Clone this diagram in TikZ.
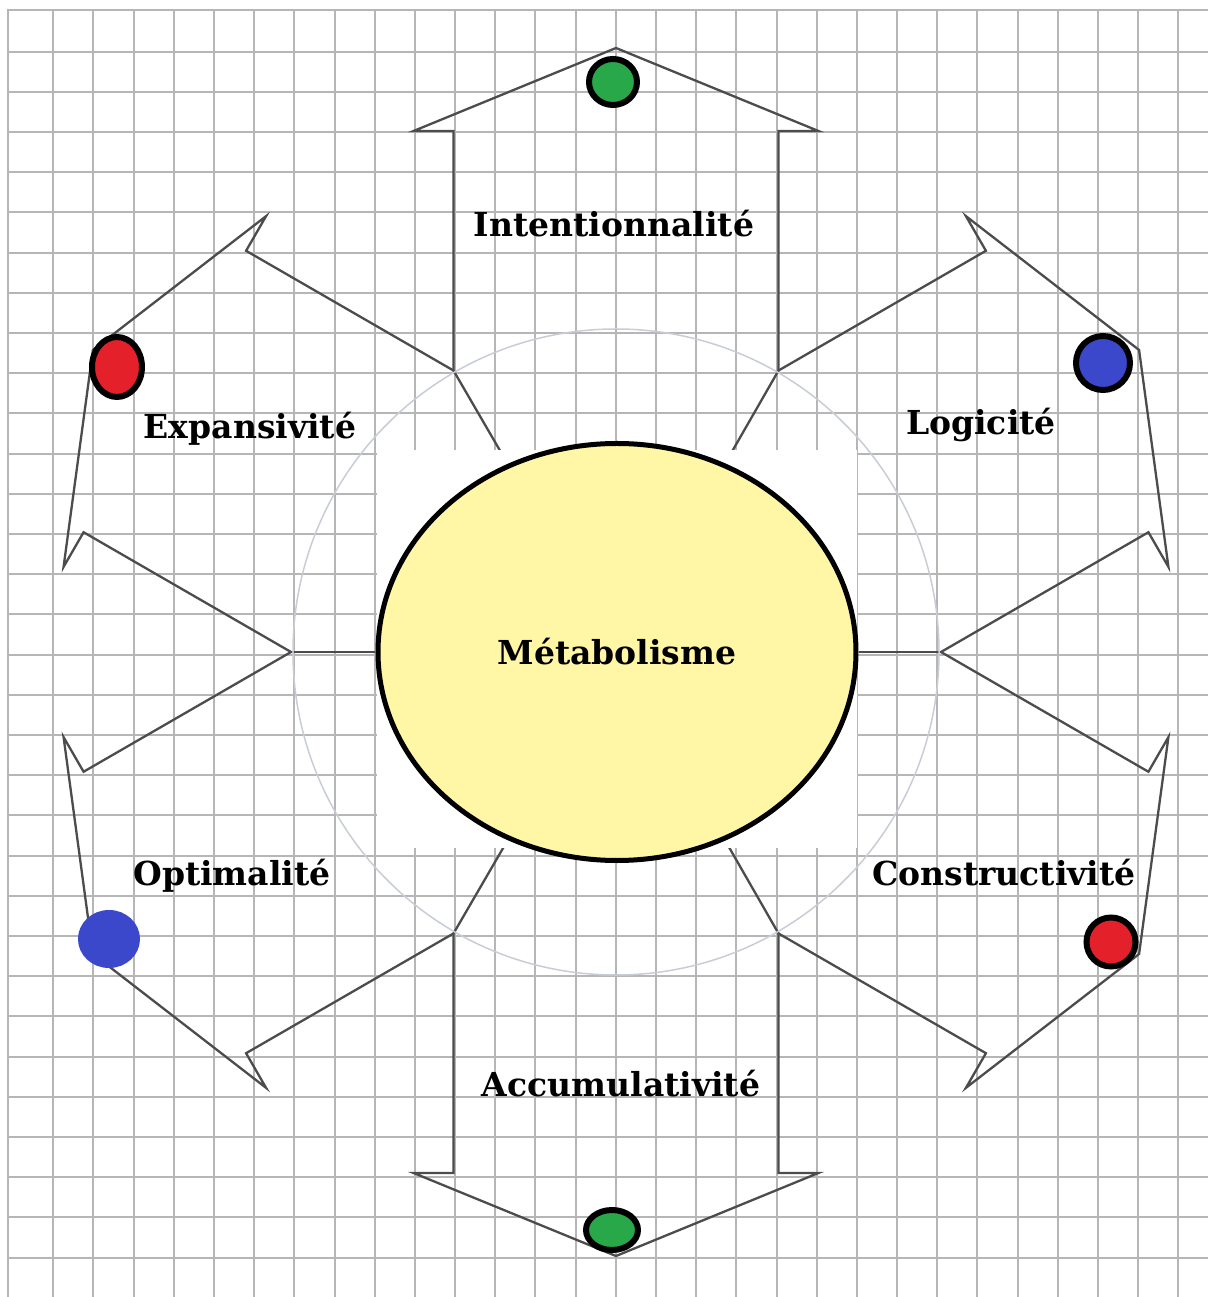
\documentclass[tikz,border=0pt]{standalone}
\usepackage{fontspec}
\setmainfont{DejaVu Serif}
\usetikzlibrary{shapes.geometric,calc,backgrounds}
\definecolor{paleyellow}{HTML}{FFF6A6}
\definecolor{gridgray}{HTML}{B6B6B6}
\definecolor{dotgreen}{HTML}{28A848}
\definecolor{dotred}{HTML}{E4202A}
\definecolor{dotblue}{HTML}{3B48CC}
\definecolor{ringgray}{HTML}{C8CDD6}

\begin{document}
\begin{tikzpicture}[x=1pt,y=1pt]
	\tikzset{gridline/.style={draw=gridgray,line width=2pt}}
	\tikzset{shaft/.style={draw=black!70,line width=2.3pt,line join=miter}}
	\tikzset{term/.style={font=\bfseries\fontsize{33}{40}\selectfont,anchor=base,inner sep=0pt}}
	\tikzset{dot/.style={ellipse,draw=black,line width=6pt,inner sep=0pt}}

	\useasboundingbox (-616,-645) rectangle (592,652);
	\node[ellipse,draw,line width=5pt,fill=paleyellow,inner sep=0pt,
	      minimum width=478pt,minimum height=417pt,
	      font=\bfseries\fontsize{33}{40}\selectfont] (meta) at (1,0) {Métabolisme};
	\foreach \i in {0,...,5}
	    \coordinate (j\i) at (60*\i:325);

	\begin{scope}[on background layer]
	    \fill[white] (-616,-645) rectangle (592,652);
	    \draw[gridline] (-608,-645) -- (-608,642) -- (592,642);
	    \foreach \k [evaluate=\k as \gx using round(13.1+40.18*\k)-616] in {1,...,29}
	        \draw[gridline] (\gx,-645) -- (\gx,642);
	    \foreach \k [evaluate=\k as \gy using 652-round(11.5+40.2*\k)] in {1,...,32}
	        \draw[gridline] (-608,\gy) -- (592,\gy);
	    \foreach \i in {0,...,5}
	        \draw[shaft] (j\i) -- (meta);
	    \fill[white] (-239,202) rectangle (241,-196);
	    \draw[ringgray,line width=1.5pt] (0,0) circle[radius=323];
	\end{scope}

	\foreach \a/\p/\q in {30/j0/j1,90/j1/j2,150/j2/j3,210/j3/j4,270/j4/j5,330/j5/j0}
	    \draw[shaft] (\p) -- ++(\a:239.5) -- ++(\a-90:40) -- (\a:604)
	        -- ($(\q)+(\a:239.5)+(\a+90:40)$) -- ++(\a-90:40) -- (\q);

	\node[dot,fill=dotgreen,minimum width=48pt,minimum height=46pt] (intdot) at (-3,570) {};
	\node[dot,fill=dotred,minimum width=50pt,minimum height=60pt] (expdot) at (-499,285) {};
	\node[dot,fill=dotblue,minimum width=54pt,minimum height=54pt] (logdot) at (487,289) {};
	\node[dot,draw=dotblue,fill=dotblue,minimum width=56pt,minimum height=52pt] (optdot) at (-507,-287) {};
	\node[dot,fill=dotred,minimum width=49pt,minimum height=49pt] (condot) at (495,-290) {};
	\node[dot,fill=dotgreen,minimum width=52pt,minimum height=40pt] (accdot) at (-4,-578) {};

	\node[term] (int) at (-2,415) {Intentionnalité};
	\node[term] (exp) at (-366,213) {Expansivité};
	\node[term] (log) at (365,217) {Logicité};
	\node[term] (opt) at (-384,-233) {Optimalité};
	\node[term] (con) at (388,-233) {Constructivité};
	\node[term] (acc) at (5,-444) {Accumulativité};
\end{tikzpicture}
\end{document}
